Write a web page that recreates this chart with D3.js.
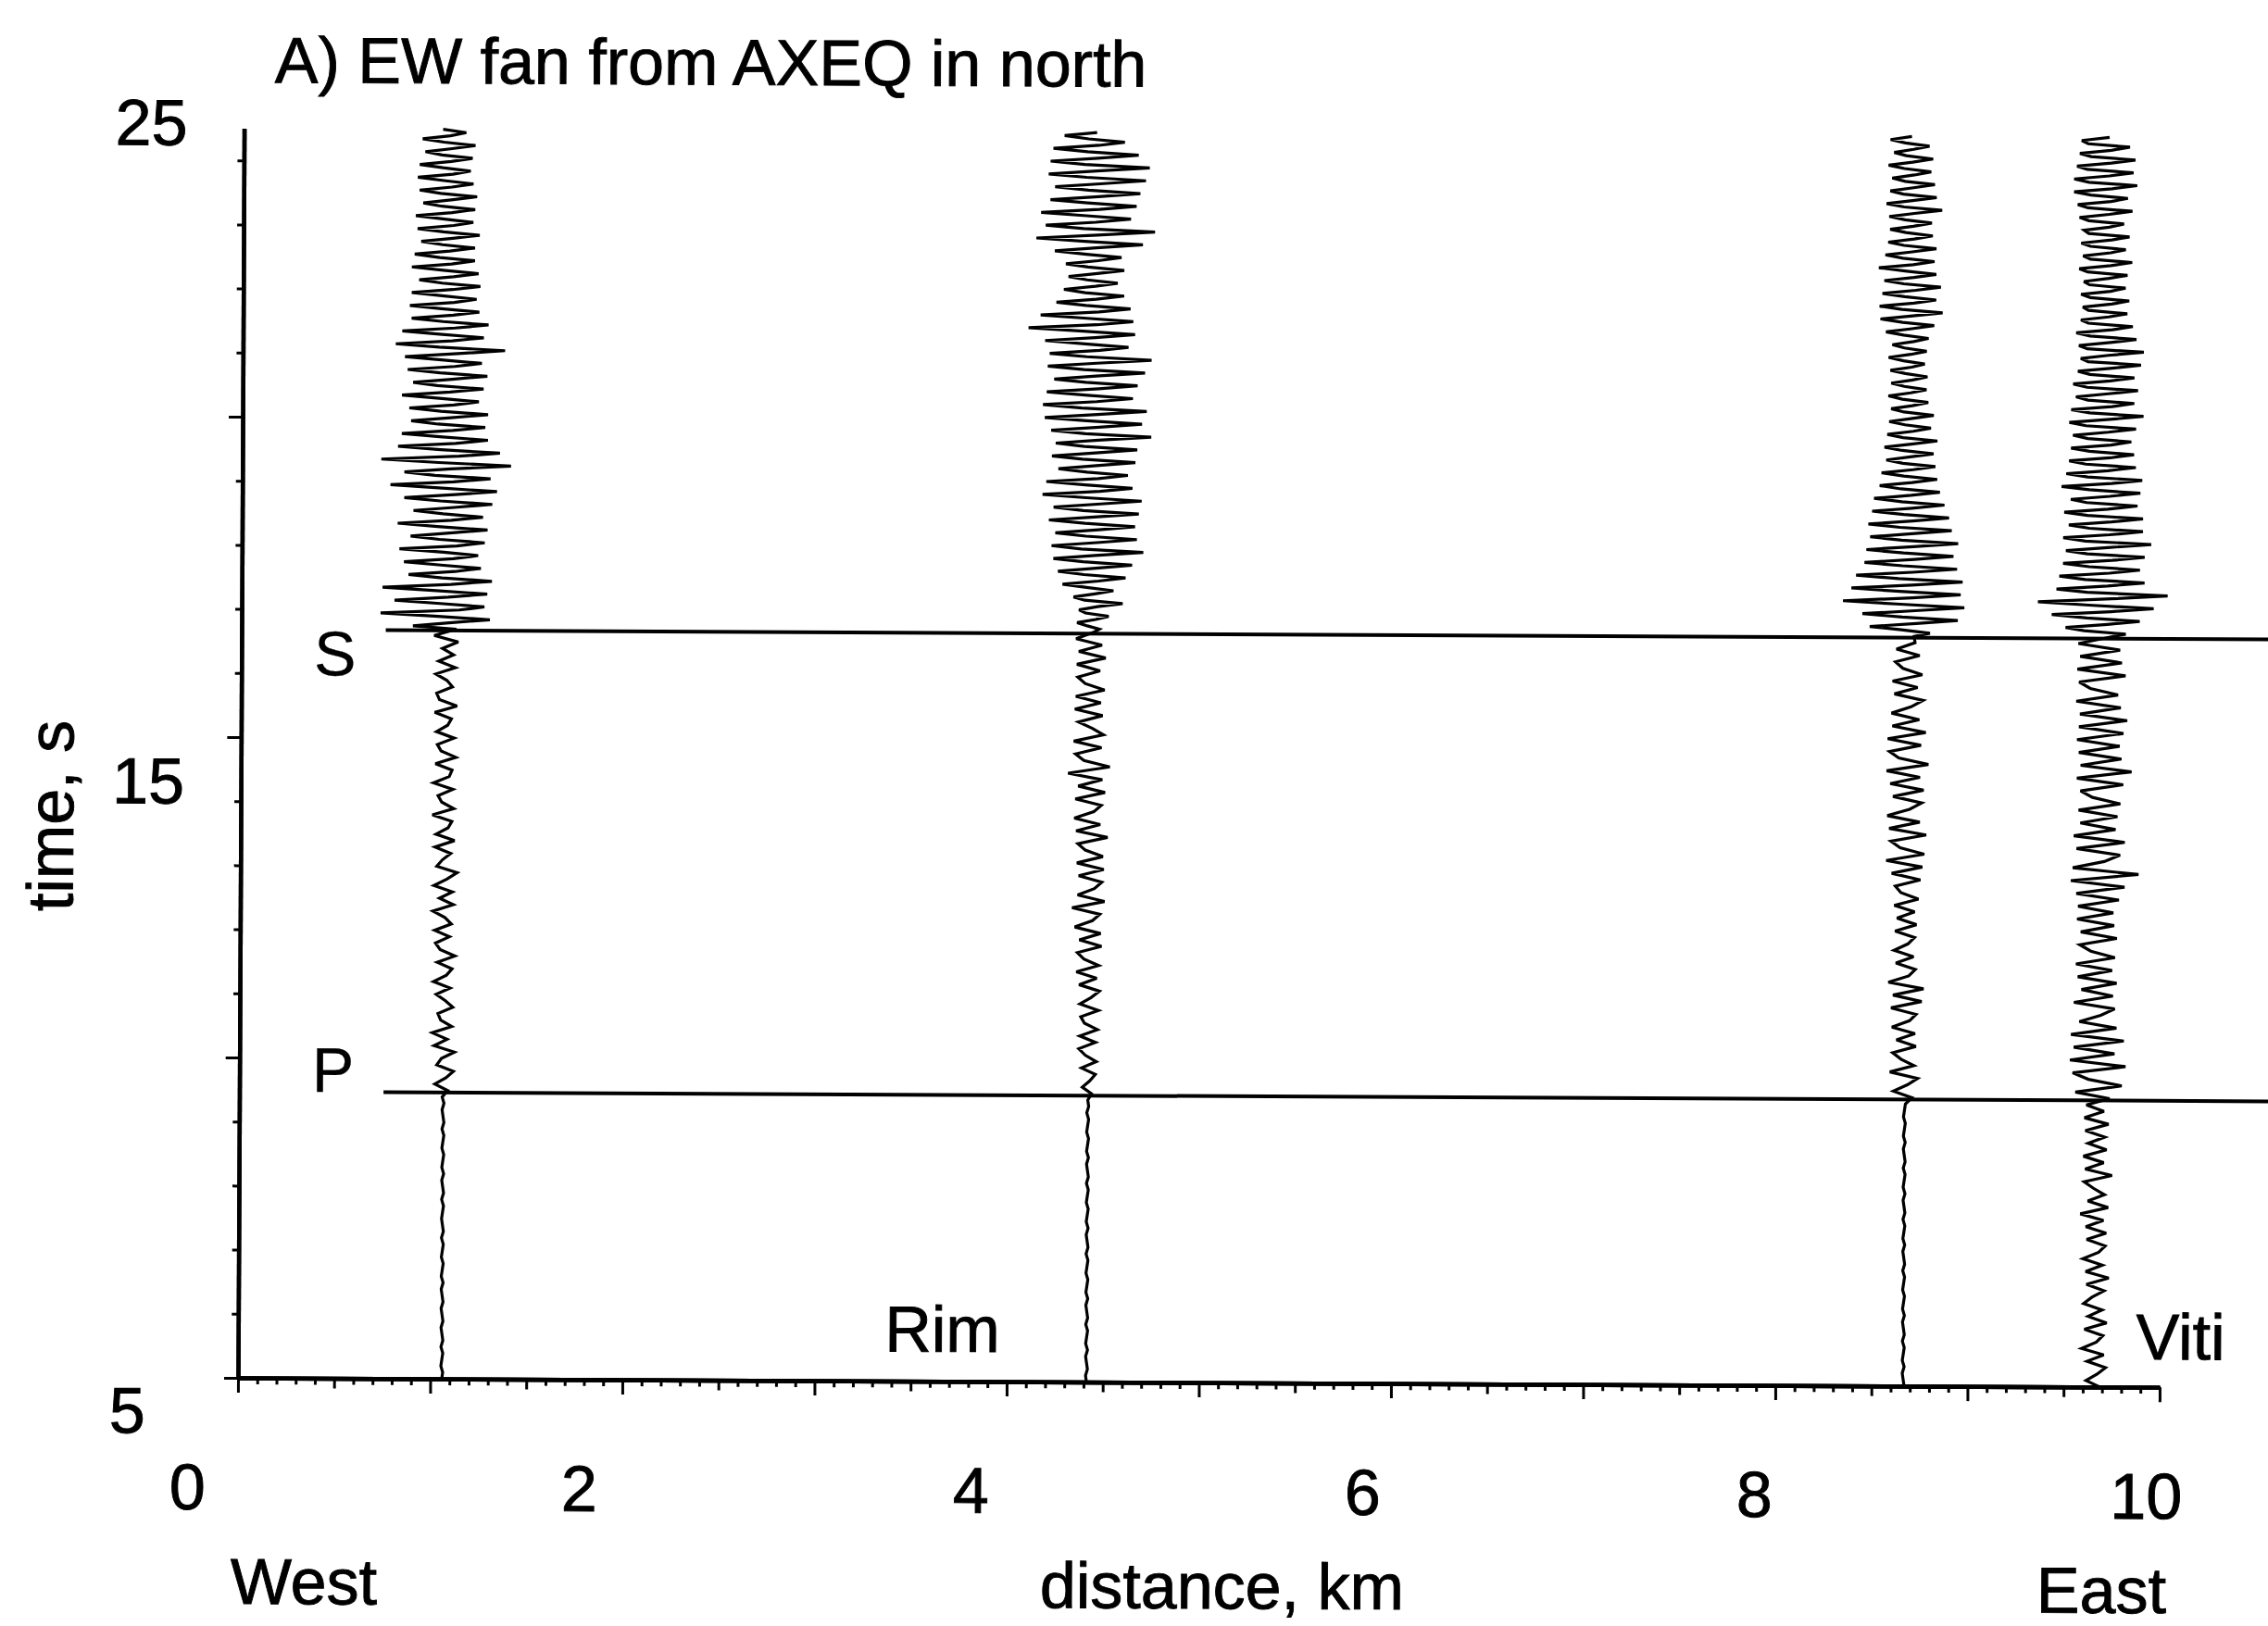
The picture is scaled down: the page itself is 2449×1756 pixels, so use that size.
<!DOCTYPE html>
<html>
<head>
<meta charset="utf-8">
<script src="https://cdn.jsdelivr.net/npm/d3@7"></script>
<style>
html,body{margin:0;padding:0;background:#fff;}
svg{display:block;}
text{font-family:"Liberation Sans",Arial,Helvetica,sans-serif;fill:#000;stroke:#000;stroke-width:0.9px;}
</style>
</head>
<body>
<svg id="chart" width="2449" height="1756"></svg>
<script>
// ---------------- data ----------------
const stationNames = ["W1", "Rim", "E1", "Viti"];
const stationDistKm = [1.06, 4.415, 8.665, 9.66];
const earlyStart = 5;      // s, first sample of early part (noise + P coda)
const earlyDt = 0.1;       // s
const codaStart = 16.7;    // s, first sample after S pick
const codaDt = 0.05;       // s
const pickNames = ["P", "S"];
const pickTimes = [9.47, 16.68];
const pickStartKm = 0.75;
const xTickLabels = [0, 2, 4, 6, 8, 10];
const yTickLabels = [5, 15, 25];

// relative ground motion (arbitrary units)
const trace1Early = [
  0,1,-1,0,1,-1,1,0,-1,1, 0,-1,1,0,-1,1,-1,0,1,-1, 0,1,-1,1,0,-1,0,1,-1,1, 0,-1,1,-1,0,1,-1,0,1,-1, 1,0,-1,1,-1,
  5,-9,3,11,-7,-2,12,-10,4,-12, 9,-3,-6,10,2,-8,7,-11,3,9, -7,12,-4,-9,6,-10,8,1,-12,10, -5,9,-11,3,14,-8,-2,7,-10,11,
  -9,4,8,-13,10,-3,-7,9,-12,5, 8,-10,12,-4,-8,10,-9,3,7,-11, 13,-6,-9,8,2,-10,11,-7,9,-3, 14,-12
];
const trace1Coda = [
  12,-35,4,48,-8,-70,15,42,-6,-55, 3,45,-10,-68,6,50,-4,-40,10,38, -5,-45,8,35,-2,-50,12,42,-7,-38,
  4,45,-9,-52,6,40,-3,-35,9,50, -6,-45,10,55,-4,-60,8,48,-12,-45, 5,70,-8,-70,14,58,-6,-52,10,45,
  -4,-48,7,42,-9,-38,5,45,-6,-40, 8,35,-5,-48,4,40,-10,-36,6,44, -7,-42,9,38,-3,-45,12,63,-8,-55,
  6,40,-5,-48,9,45,-4,-38,7,35, -6,-40,8,32,-3,-38,6,36,-5,-30, 7,34,-4,-38,5,30,-8,-35,3,30,
  -5,-28,6,35,-4,-32,7,28,-3,-34, 5,30,-6,-26,4,32,-7,-30,5,28, -4,-32,6,25,-5,-30,4,27,-6,-24,
  5,30,-4,-27,3,20,-5
];
const trace2Early = [
  0,-1,1,0,-1,1,-1,0,1,-1, 1,0,-1,1,-1,0,1,-1,0,1, -1,1,0,-1,1,-1,0,1,-1,0, 1,-1,1,0,-1,1,-1,0,1,-1, 0,1,-1,1,0,
  4,-6,2,8,-7,9,-3,-10,8,-9, 10,-4,-8,11,-9,3,12,-10,9,-13, 11,-5,-12,14,-10,13,-15,4,12,-18,
  17,-12,6,14,-11,16,-13,15,-4,-12, 20,-14,12,-16,5,13,-15,17,-12,14, -23,22,-6,-15,13,-17,15,3,-12,14,
  -16,12,-15,16,-5,-13,11,-14,17,-12, 13,-15
];
const trace2Coda = [
  4,10,-3,-14,6,20,-5,-12,8,35, -6,-18,5,25,-4,-30,9,38,-7,-35, 6,45,-8,-40,5,57,-10,-42,7,50,
  -5,-38,9,48,-6,-45,4,52,-8,-40, 7,55,-5,-52,10,45,-6,-48,8,40, -4,-35,6,48,-9,-42,5,50,-7,-38,
  8,65,-6,-43,9,55,-5,-50,7,60, -10,-52,6,45,-4,-48,8,50,-6,-40, 5,58,-8,-47,6,65,-5,-45,9,40,
  -7,-50,4,47,-9,-68,6,45,-5,-55, 8,42,-6,-38,5,35,-7,-30,4,28, -5,-25,6,35,-4,-28,7,32,-6,-40,
  5,55,-8,-60,6,68,-9,-50,4,42, -6,-55,8,48,-5,-45,7,52,-4,-40, 9,58,-6,-47,5,62,-8,-45,6,50,
  -5,-42,7,35,-4,-30,5
];
const trace3Early = [
  1,0,-1,1,-1,0,1,-1,1,0, -1,1,-1,0,1,-1,0,1,-1,1, 0,-1,1,-1,0,1,-1,1,0,-1, 1,-1,0,1,-1,1,0,-1,1,-1, 0,1,-1,0,1,
  8,-12,3,14,-16,10,-4,-13,12,-9, 11,-14,5,12,-15,18,-13,20,-18,4, 11,-10,9,-12,3,10,-11,12,-9,10,
  -12,14,-5,-11,16,-15,18,-21,20,-6, -16,22,-18,15,-20,4,17,-14,19,-17, 15,-21,24,-8,-18,16,-20,21,-15,14,
  -16,5,18,-13,12,-15,17,-4,-12,14, -11,9
];
const trace3Coda = [
  8,25,-6,-40,10,55,-5,-48,9,62, -7,-69,6,58,-8,-60,5,60,-9,-55, 6,54,-5,-46,8,50,-4,-44,7,55,
  -6,-40,5,48,-8,-42,6,45,-4,-38, 5,40,-6,-36,4,35,-7,-30,5,32, -4,-28,6,30,-5,-23,3,28,-6,-25,
  4,32,-5,-22,6,25,-3,-20,5,28, -4,-18,5,22,-6,-21,3,20,-4,-18, 5,21,-3,-19,4,18,-5,-21,3,20,
  -4,-17,6,22,-5,-24,4,28,-6,-30, 5,37,-7,-31,6,30,-4,-28,8,35, -5,-26,6,30,-4,-32,5,28,-6,-25,
  4,30,-5,-22,6,26,-3,-20,5,25, -4,-21,6,36,-5,-24,4,30,-6,-20, 5,28,-4,-18,6,24,-5,-22,4,26,
  -3,-16,5,22,-4,-20,3
];
const trace4Early = [
  6,-9,3,12,-8,10,-14,2,9,-11, 13,-7,8,-12,-3,10,-9,15,-10,8, -13,4,11,-9,12,-10,9,-16,14,-8, 10,-2,-12,18,-11,9,-13,12,-8,10, -11,14,-12,9,-10,
  15,-22,28,-8,-25,32,-28,20,-24,30, -27,22,-18,5,20,-24,18,-16,22,-20, 17,-22,20,-6,-18,22,-17,19,-21,18,
  -20,24,-22,30,-28,45,-26,8,25,-22, 30,-25,20,-18,22,-20,25,-5,-18,28, -22,37,-18,26,-20,24,-22,28,-20,32,
  -19,25,-23,22,-8,-20,30,-22,26,-19, 24,-21
];
const trace4Coda = [
  12,30,-15,-35,10,45,-12,-50,14,60, -10,-65,15,75,-12,-45,10,50,-14,-42, 12,45,-10,-38,15,50,-12,-35,10,57,
  -14,-38,12,48,-10,-32,14,48,-12,-37, 10,42,-13,-30,12,45,-10,-40,14,47, -12,-35,10,40,-14,-32,12,38,-10,-30,
  13,35,-12,-28,10,40,-14,-32,12,48, -10,-30,14,38,-12,-25,10,42,-13,-28, 12,38,-10,-23,14,45,-12,-20,10,48,
  -13,-22,12,40,-10,-25,14,36,-12,-20, 10,30,-12,-18,13,32,-10,-20,12,28, -11,-17,10,30,-13,-22,12,35,-10,-18,
  12,28,-10,-20,13,32,-12,-17,10,26, -12,-22,10,35,-13,-24,12,30,-10,-28, 13,40,-12,-28,10,36,-14,-25,12,38,
  -10,-22,12,32,-13,-20,10
];
const earlyParts = [trace1Early, trace2Early, trace3Early, trace4Early];
const codaParts = [trace1Coda, trace2Coda, trace3Coda, trace4Coda];

// ---------------- layout ----------------
const svg = d3.select("#chart");
svg.append("rect").attr("width", 2449).attr("height", 1756).attr("fill", "#fff");

const x = d3.scaleLinear().domain([0, 10]).range([257, 2332]);
const y = d3.scaleLinear().domain([5, 24.5]).range([1488, 138.6]);
const amp = d3.scaleLinear().domain([-100, 100]).range([-100, 100]);
const xLabel = d3.scaleLinear().domain([0, 10]).range([203, 2318]);
const yLabel = d3.scaleLinear().domain([5, 15, 25]).range([1548, 868, 157]);

const g = svg.append("g").attr("transform", "rotate(0.28,257,1488)");

// title
g.append("text").attr("x", 290).attr("y", 89).attr("font-size", 70)
  .text("A) EW fan from AXEQ in north");

// pick lines
const pickLine = d3.line().x(d => x(d[0])).y(d => y(d[1]));
pickTimes.forEach((t, i) => {
  g.append("path").attr("d", pickLine([[pickStartKm, t], [11, t]]))
    .attr("fill", "none").attr("stroke", "#000").attr("stroke-width", 4);
});
g.selectAll(".pick").data(pickNames).join("text").attr("class", "pick")
  .attr("x", 358).attr("y", (d, i) => y(pickTimes[i]) + [0, 49][i])
  .attr("text-anchor", "middle").attr("font-size", 68)
  .style("stroke-width", "0.3px").text(d => d);

// traces
earlyParts.forEach((early, k) => {
  const pts = early.map((v, i) => ({ t: earlyStart + i * earlyDt, v }))
    .concat(codaParts[k].map((v, j) => ({ t: codaStart + j * codaDt, v })));
  const line = d3.line()
    .x(d => x(stationDistKm[k]) + amp(d.v))
    .y(d => y(d.t));
  g.append("path").attr("d", line(pts))
    .attr("fill", "none").attr("stroke", "#000")
    .attr("stroke-width", 3.2).attr("stroke-linejoin", "miter").attr("stroke-miterlimit", 3);
});

// axes
function styleAxis(sel, w) {
  sel.selectAll("path.domain").attr("stroke", "#000").attr("stroke-width", w);
  sel.selectAll(".tick line").attr("stroke", "#000").attr("stroke-width", 3);
  sel.selectAll(".tick text").remove();
}
const minorX = d3.range(0, 101).map(i => i / 10).filter(v => Math.round(v * 10) % 5 !== 0);
const halfX = d3.range(0, 20).map(i => i + 0.5).filter(v => v < 10);
const majorX = d3.range(0, 11);
const gx = g.append("g").attr("transform", "translate(0,1488)");
gx.append("g").call(d3.axisBottom(x).tickValues(minorX).tickSize(7).tickSizeOuter(0)).call(s => styleAxis(s, 4.5));
gx.append("g").call(d3.axisBottom(x).tickValues(halfX).tickSize(11).tickSizeOuter(0)).call(s => styleAxis(s, 4.5));
gx.append("g").call(d3.axisBottom(x).tickValues(majorX).tickSize(16).tickSizeOuter(0)).call(s => styleAxis(s, 4.5));

const gy = g.append("g").attr("transform", "translate(257,0)");
gy.append("g").call(d3.axisLeft(y).tickValues(d3.range(5, 25)).tickSize(7).tickSizeOuter(0)).call(s => styleAxis(s, 4.5));
gy.append("g").call(d3.axisLeft(y).tickValues([5, 10, 15, 20]).tickSize(15).tickSizeOuter(0)).call(s => styleAxis(s, 4.5));

// tick labels
g.selectAll(".xl").data(xTickLabels).join("text").attr("class", "xl")
  .attr("x", d => xLabel(d)).attr("y", 1630).attr("text-anchor", "middle")
  .attr("font-size", 70).text(d => d);
g.selectAll(".yl").data(yTickLabels).join("text").attr("class", "yl")
  .attr("x", 118).attr("y", d => yLabel(d)).attr("text-anchor", "start")
  .attr("font-size", 70).text(d => d);

// axis titles and annotations
g.append("text").attr("x", 250).attr("y", 1732).attr("font-size", 70).text("West");
g.append("text").attr("x", 1124).attr("y", 1732).attr("font-size", 70).text("distance, km");
g.append("text").attr("x", 2200).attr("y", 1732).attr("font-size", 70).text("East");
g.append("text").attr("transform", "translate(76,882) rotate(-90)")
  .attr("text-anchor", "middle").attr("font-size", 70).text("time, s");
g.append("text").attr("x", x(stationDistKm[1]) - 218).attr("y", 1456).attr("font-size", 70).text(stationNames[1]);
g.append("text").attr("x", x(stationDistKm[3]) + 45).attr("y", 1458).attr("font-size", 70).text(stationNames[3]);
</script>
</body>
</html>
